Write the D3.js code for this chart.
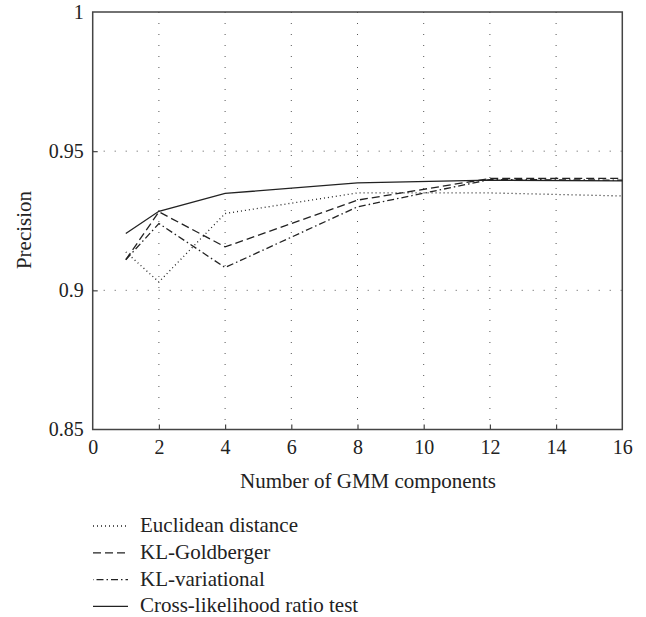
<!DOCTYPE html>
<html><head><meta charset="utf-8">
<script src="https://cdn.jsdelivr.net/npm/d3@7"></script>
<style>body{margin:0;background:#fff}svg{display:block}text{font-family:"Liberation Serif","DejaVu Serif",serif;fill:#222}</style>
</head><body><svg id="c" width="646" height="617"></svg>
<script>
const xValues = [1, 2, 4, 8, 12, 16];
const euclidean = [0.9138, 0.9030, 0.9276, 0.9350, 0.9350, 0.9339];
const klGoldberger = [0.9110, 0.9282, 0.9156, 0.9324, 0.9402, 0.9402];
const klVariational = [0.9110, 0.9240, 0.9082, 0.9300, 0.9398, 0.9396];
const crossLikelihood = [0.9204, 0.9284, 0.9348, 0.9386, 0.9396, 0.9393];
const seriesNames = ["Euclidean distance", "KL-Goldberger", "KL-variational", "Cross-likelihood ratio test"];
const xTicks = [0, 2, 4, 6, 8, 10, 12, 14, 16];
const yTicks = [0.85, 0.9, 0.95, 1];
const yTickLabels = ["0.85", "0.9", "0.95", "1"];

const dashes = ["1,3", "8,4", "7,3,1.5,3", null];
const series = [euclidean, klGoldberger, klVariational, crossLikelihood];

const svg = d3.select("#c");
const L = 92.7, R = 622.3, T = 12, B = 429.5;
const x = d3.scaleLinear().domain([0, 16]).range([L, R]);
const y = d3.scaleLinear().domain([0.85, 1]).range([B, T]);

// grid
const g = svg.append("g");
g.selectAll("line.gx").data(xTicks.filter(d => d > 0 && d < 16)).enter().append("line")
  .attr("x1", d => x(d)).attr("x2", d => x(d)).attr("y1", T).attr("y2", B)
  .attr("stroke", "#555").attr("stroke-width", 1).attr("stroke-dasharray", "1,10");
g.selectAll("line.gy").data(yTicks.filter(d => d > 0.85 && d < 1)).enter().append("line")
  .attr("x1", L).attr("x2", R).attr("y1", d => y(d)).attr("y2", d => y(d))
  .attr("stroke", "#555").attr("stroke-width", 1).attr("stroke-dasharray", "1,10");

// axes
const xAxis = d3.axisBottom(x).tickValues(xTicks).tickSize(-5).tickPadding(10).tickFormat(d3.format("d"));
const yAxis = d3.axisLeft(y).tickValues(yTicks).tickSize(-5).tickPadding(9).tickFormat((d, i) => yTickLabels[i]);
const ax = svg.append("g").attr("transform", `translate(0,${B})`).call(xAxis);
const ay = svg.append("g").attr("transform", `translate(${L},0)`).call(yAxis);
[ax, ay].forEach(a => {
  a.select(".domain").remove();
  a.selectAll(".tick line").attr("stroke", "#444").attr("stroke-width", 1.2);
  a.selectAll(".tick text").attr("font-size", 20).attr("fill", "#222");
});
ay.selectAll(".tick").filter(d => d === 0.85 || d === 1).select("line").remove();
ax.selectAll(".tick").filter(d => d === 0 || d === 16).select("line").remove();

svg.append("rect").attr("x", L).attr("y", T).attr("width", R - L).attr("height", B - T)
  .attr("fill", "none").attr("stroke", "#444").attr("stroke-width", 1.5);

// lines
const line = d3.line().x((d, i) => x(xValues[i])).y(d => y(d));
series.forEach((s, i) => {
  svg.append("path").datum(s).attr("d", line).attr("fill", "none")
    .attr("stroke", "#222").attr("stroke-width", 1.3)
    .attr("stroke-dasharray", dashes[i]);
});

// labels
svg.append("text").attr("x", 368).attr("y", 488).attr("text-anchor", "middle")
  .attr("font-size", 21).text("Number of GMM components");
svg.append("text").attr("transform", "translate(31,230) rotate(-90)").attr("text-anchor", "middle")
  .attr("font-size", 21).text("Precision");

// legend
const lg = svg.append("g");
seriesNames.forEach((n, i) => {
  const yy = 526 + i * 26.8;
  lg.append("line").attr("x1", 93).attr("x2", 128).attr("y1", yy).attr("y2", yy)
    .attr("stroke", "#222").attr("stroke-width", 1.3).attr("stroke-dasharray", dashes[i])
    .attr("stroke-dashoffset", i === 2 ? 11 : 0);
  lg.append("text").attr("x", 140).attr("y", yy + 6).attr("font-size", 21).text(n);
});
</script></body></html>
